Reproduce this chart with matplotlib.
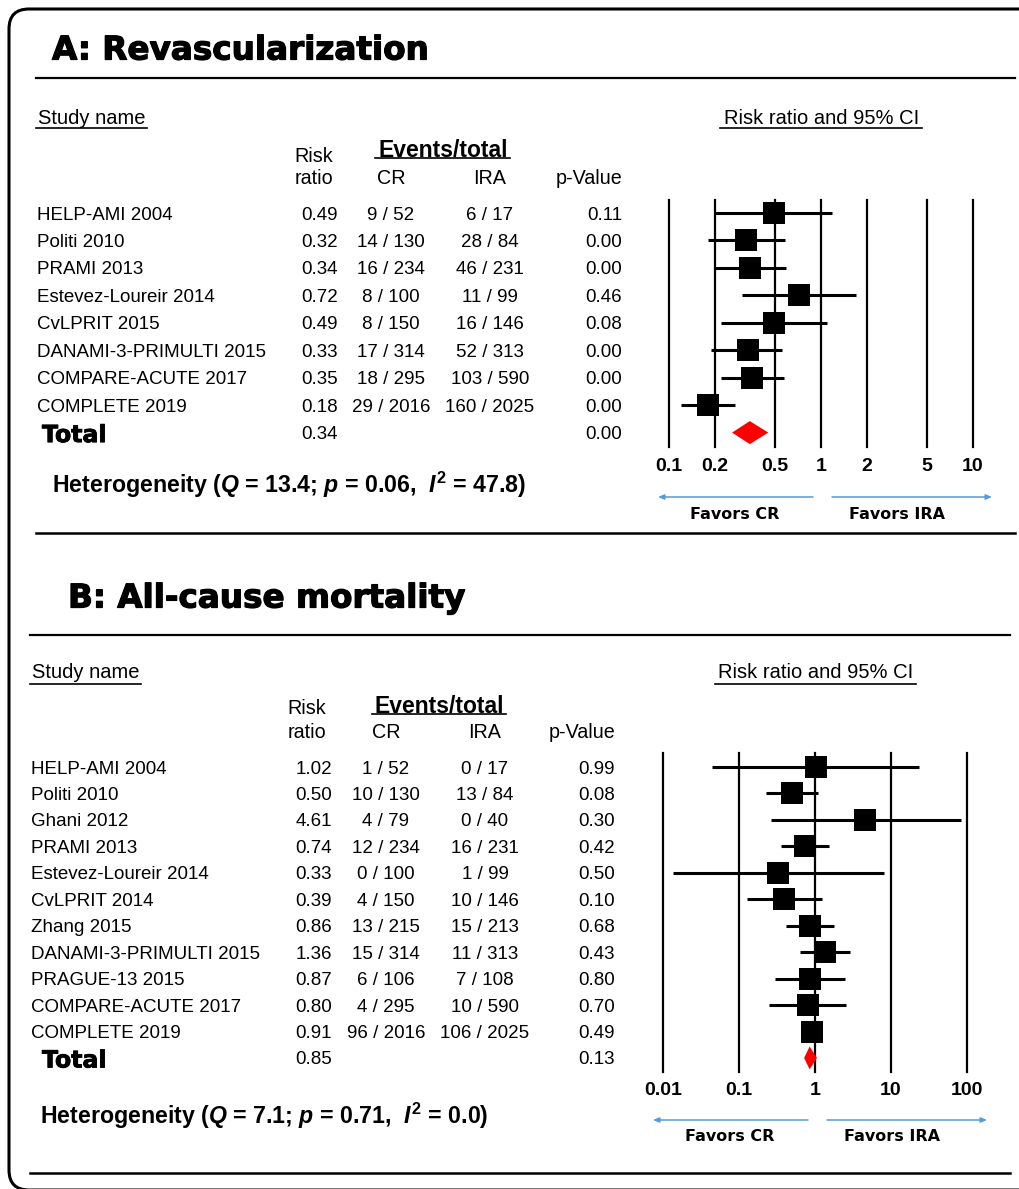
import matplotlib

matplotlib.use("Agg")
import matplotlib.pyplot as plt  # noqa: E402
import matplotlib.patheffects as pe  # noqa: E402
from matplotlib.patches import FancyBboxPatch  # noqa: E402
from matplotlib.ticker import NullLocator  # noqa: E402

W, H = 1019, 1189

# ---------------------------------------------------------------------------
# Data: panel A (revascularization)
# ---------------------------------------------------------------------------
A_STUDIES = [
    "HELP-AMI 2004", "Politi 2010", "PRAMI 2013", "Estevez-Loureir 2014",
    "CvLPRIT 2015", "DANAMI-3-PRIMULTI 2015", "COMPARE-ACUTE 2017",
    "COMPLETE 2019",
]
A_RR = [0.49, 0.32, 0.34, 0.72, 0.49, 0.33, 0.35, 0.18]
A_LO = [0.20, 0.18, 0.20, 0.30, 0.22, 0.19, 0.22, 0.12]
A_HI = [1.18, 0.58, 0.59, 1.71, 1.10, 0.55, 0.57, 0.27]
A_CR = ["9 / 52", "14 / 130", "16 / 234", "8 / 100", "8 / 150",
        "17 / 314", "18 / 295", "29 / 2016"]
A_IRA = ["6 / 17", "28 / 84", "46 / 231", "11 / 99", "16 / 146",
         "52 / 313", "103 / 590", "160 / 2025"]
A_P = ["0.11", "0.00", "0.00", "0.46", "0.08", "0.00", "0.00", "0.00"]
A_TOTAL_RR, A_TOTAL_LO, A_TOTAL_HI, A_TOTAL_P = 0.34, 0.26, 0.45, "0.00"
A_HET = r"Heterogeneity ($Q$ = 13.4; $p$ = 0.06,  $I^{2}$ = 47.8)"
A_TICKS = [0.1, 0.2, 0.5, 1, 2, 5, 10]
A_TICKLABELS = ["0.1", "0.2", "0.5", "1", "2", "5", "10"]

# ---------------------------------------------------------------------------
# Data: panel B (all-cause mortality)
# ---------------------------------------------------------------------------
B_STUDIES = [
    "HELP-AMI 2004", "Politi 2010", "Ghani 2012", "PRAMI 2013",
    "Estevez-Loureir 2014", "CvLPRIT 2014", "Zhang 2015",
    "DANAMI-3-PRIMULTI 2015", "PRAGUE-13 2015", "COMPARE-ACUTE 2017",
    "COMPLETE 2019",
]
B_RR = [1.02, 0.50, 4.61, 0.74, 0.33, 0.39, 0.86, 1.36, 0.87, 0.80, 0.91]
B_LO = [0.044, 0.23, 0.26, 0.36, 0.0135, 0.127, 0.42, 0.63, 0.30, 0.25, 0.70]
B_HI = [23.5, 1.08, 83.0, 1.53, 8.1, 1.22, 1.76, 2.91, 2.51, 2.53, 1.19]
B_CR = ["1 / 52", "10 / 130", "4 / 79", "12 / 234", "0 / 100", "4 / 150",
        "13 / 215", "15 / 314", "6 / 106", "4 / 295", "96 / 2016"]
B_IRA = ["0 / 17", "13 / 84", "0 / 40", "16 / 231", "1 / 99", "10 / 146",
         "15 / 213", "11 / 313", "7 / 108", "10 / 590", "106 / 2025"]
B_P = ["0.99", "0.08", "0.30", "0.42", "0.50", "0.10", "0.68", "0.43",
       "0.80", "0.70", "0.49"]
B_TOTAL_RR, B_TOTAL_LO, B_TOTAL_HI, B_TOTAL_P = 0.85, 0.72, 1.06, "0.13"
B_HET = r"Heterogeneity ($Q$ = 7.1; $p$ = 0.71,  $I^{2}$ = 0.0)"
B_TICKS = [0.01, 0.1, 1, 10, 100]
B_TICKLABELS = ["0.01", "0.1", "1", "10", "100"]

# ---------------------------------------------------------------------------
# Layout (figure pixels, y downward)
# ---------------------------------------------------------------------------
LAYOUT_A = {
    "title": (52, 50), "title_line": (36, 1015, 78),
    "study": (38, 117), "study_ul": (36, 147, 128),
    "risk_x": 314, "risk_y": (154, 176),
    "events": (443, 148), "events_ul": (375, 510, 158),
    "cr_x": 391, "ira_x": 490, "p_right": 622, "sub_y": 176,
    "name_x": 37, "total_x": 42, "rr_x": 320,
    "y0": 213, "step": 27.45,
    "het": (52, 481),
    "ax_x": (669, 973), "ax_y": (200, 447),
    "ci_hdr": (822, 117), "ci_ul": (720, 922, 128),
    "arrow_y": 497, "arrow_l": (813, 658), "arrow_r": (832, 992),
    "fav_y": 513, "fav_x": (735, 897),
    "bottom_line": (36, 1015, 533), "tick_pad": 8.0,
}
LAYOUT_B = {
    "title": (68, 598), "title_line": (30, 1010, 635),
    "study": (32, 670), "study_ul": (30, 141, 684),
    "risk_x": 307, "risk_y": (707, 730),
    "events": (439, 704), "events_ul": (372, 506, 714),
    "cr_x": 386, "ira_x": 485, "p_right": 615, "sub_y": 730,
    "name_x": 31, "total_x": 42, "rr_x": 314,
    "y0": 767, "step": 26.45,
    "het": (40, 1112),
    "ax_x": (663, 967), "ax_y": (753, 1072),
    "ci_hdr": (816, 670), "ci_ul": (715, 916, 684),
    "arrow_y": 1120, "arrow_l": (808, 653), "arrow_r": (827, 987),
    "fav_y": 1135, "fav_x": (730, 892),
    "bottom_line": (30, 1010, 1173), "tick_pad": 7.5,
}

SANS = "Liberation Sans"
HEAVY = "DejaVu Sans"
ARROW_BLUE = "#5B9BD5"

plt.rcParams.update({
    "font.family": SANS,
    "mathtext.fontset": "custom",
    "mathtext.rm": "Liberation Sans:bold",
    "mathtext.it": "Liberation Sans:italic:bold",
    "mathtext.bf": "Liberation Sans:bold",
})


def heavy(width):
    """Thicken a bold face a little so it reads like a 'black' weight."""
    return [pe.withStroke(linewidth=width, foreground="black")]


def draw_panel(fig, bg, title, studies, rr, lo, hi, cr, ira, pv,
               tot, het, ticks, ticklabels, lay):
    txt = dict(va="center_baseline")
    # title + rule
    bg.text(*lay["title"], title, family=HEAVY, weight="bold", fontsize=23.5,
            va="center", path_effects=heavy(0.9))
    x0, x1, y = lay["title_line"]
    bg.plot([x0, x1], [y, y], color="black", lw=1.6)

    # column headers
    bg.text(*lay["study"], "Study name", fontsize=14.5, **txt)
    x0, x1, y = lay["study_ul"]
    bg.plot([x0, x1], [y, y], color="black", lw=1.2)
    bg.text(lay["risk_x"], lay["risk_y"][0], "Risk", fontsize=14.2,
            ha="center", **txt)
    bg.text(lay["risk_x"], lay["risk_y"][1], "ratio", fontsize=14.2,
            ha="center", **txt)
    bg.text(*lay["events"], "Events/total", fontsize=16.5, weight="bold",
            ha="center", **txt)
    x0, x1, y = lay["events_ul"]
    bg.plot([x0, x1], [y, y], color="black", lw=1.2)
    bg.text(lay["cr_x"], lay["sub_y"], "CR", fontsize=14.2, ha="center", **txt)
    bg.text(lay["ira_x"], lay["sub_y"], "IRA", fontsize=14.2, ha="center",
            **txt)
    bg.text(lay["p_right"], lay["sub_y"], "p-Value", fontsize=14.2,
            ha="right", **txt)

    # table rows
    y0, step = lay["y0"], lay["step"]
    for i, name in enumerate(studies):
        y = y0 + i * step
        bg.text(lay["name_x"], y, name, fontsize=13.5, **txt)
        bg.text(lay["rr_x"], y, f"{rr[i]:.2f}", fontsize=13.5, ha="center",
                **txt)
        bg.text(lay["cr_x"], y, cr[i], fontsize=13.5, ha="center", **txt)
        bg.text(lay["ira_x"], y, ira[i], fontsize=13.5, ha="center", **txt)
        bg.text(lay["p_right"], y, pv[i], fontsize=13.5, ha="right", **txt)
    n = len(studies)
    y = y0 + n * step
    bg.text(lay["total_x"], y, "Total", family=HEAVY, weight="bold",
            fontsize=17, path_effects=heavy(0.6), **txt)
    bg.text(lay["rr_x"], y, f"{tot[0]:.2f}", fontsize=13.5, ha="center", **txt)
    bg.text(lay["p_right"], y, tot[3], fontsize=13.5, ha="right", **txt)
    bg.text(*lay["het"], het, fontsize=16.7, weight="bold", **txt)

    # forest plot axes
    ax0, ax1 = lay["ax_x"]
    ay0, ay1 = lay["ax_y"]
    ax = fig.add_axes([ax0 / W, 1 - ay1 / H, (ax1 - ax0) / W, (ay1 - ay0) / H])
    ax.set_xscale("log")
    ax.set_xlim(ticks[0], ticks[-1])
    ax.set_ylim((ay1 - y0) / step, (ay0 - y0) / step)
    for s in ax.spines.values():
        s.set_visible(False)
    ax.patch.set_alpha(0)
    for t in ticks:
        ax.axvline(t, color="black", lw=1.6, clip_on=False, zorder=1)
    ax.set_xticks(ticks)
    ax.set_xticklabels(ticklabels, fontsize=14, weight="bold")
    ax.xaxis.set_minor_locator(NullLocator())
    ax.tick_params(axis="x", length=0, pad=lay["tick_pad"])
    ax.set_yticks([])

    rows = list(range(n))
    ax.hlines(rows, lo, hi, color="black", lw=2.2, zorder=2, clip_on=False)
    ax.plot(rr, rows, ls="none", marker="s", markersize=15.2,
            color="black", mew=0, zorder=3, clip_on=False)
    h = 11.5 / step
    ax.fill([tot[1], tot[0], tot[2], tot[0]], [n, n - h, n, n + h],
            color="#FF0000", lw=0, zorder=3, clip_on=False)

    # right-hand header
    bg.text(*lay["ci_hdr"], "Risk ratio and 95% CI", fontsize=14.5,
            ha="center", **txt)
    x0, x1, y = lay["ci_ul"]
    bg.plot([x0, x1], [y, y], color="black", lw=1.2)

    # favour arrows
    ya = lay["arrow_y"]
    for xs, xe in (lay["arrow_l"], lay["arrow_r"]):
        bg.annotate("", xy=(xe, ya), xytext=(xs, ya),
                    arrowprops=dict(arrowstyle="-|>,head_length=0.35,"
                                    "head_width=0.15", color=ARROW_BLUE,
                                    lw=1.1, shrinkA=0, shrinkB=0))
    for x, label in zip(lay["fav_x"], ("Favors CR", "Favors IRA")):
        bg.text(x, lay["fav_y"], label, family=HEAVY, weight="bold",
                fontsize=11.5, ha="center", **txt)

    x0, x1, y = lay["bottom_line"]
    bg.plot([x0, x1], [y, y], color="black", lw=1.8)


def main():
    fig = plt.figure(figsize=(W / 100, H / 100), dpi=100)
    bg = fig.add_axes([0, 0, 1, 1])
    bg.set_xlim(0, W)
    bg.set_ylim(H, 0)
    bg.axis("off")

    # outer rounded frame; its right edge falls just outside the picture
    frame = FancyBboxPatch((9, 9), 1040, 1181,
                           boxstyle="round,pad=0,rounding_size=20",
                           fill=False, ec="black", lw=2.2)
    bg.add_patch(frame)

    draw_panel(fig, bg, "A: Revascularization", A_STUDIES, A_RR, A_LO, A_HI,
               A_CR, A_IRA, A_P,
               (A_TOTAL_RR, A_TOTAL_LO, A_TOTAL_HI, A_TOTAL_P), A_HET,
               A_TICKS, A_TICKLABELS, LAYOUT_A)
    draw_panel(fig, bg, "B: All-cause mortality", B_STUDIES, B_RR, B_LO, B_HI,
               B_CR, B_IRA, B_P,
               (B_TOTAL_RR, B_TOTAL_LO, B_TOTAL_HI, B_TOTAL_P), B_HET,
               B_TICKS, B_TICKLABELS, LAYOUT_B)

    fig.savefig("out.png", dpi=100)
    plt.close(fig)


if __name__ == "__main__":
    main()
